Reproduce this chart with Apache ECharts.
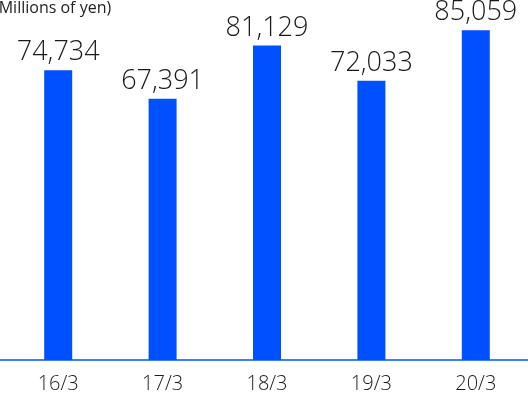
<!DOCTYPE html>
<html>
<head>
<meta charset="utf-8">
<script src="https://cdn.jsdelivr.net/npm/echarts@6/dist/echarts.min.js"></script>
<style>
  html, body { margin: 0; padding: 0; background: #fff; }
  #chart { width: 528px; height: 396px; }
</style>
</head>
<body>
<div id="chart"></div>
<script>
// Fiscal years (year/month of fiscal year end)
const categories = ['16/3', '17/3', '18/3', '19/3', '20/3'];
// Amounts in millions of yen
const values = [74734, 67391, 81129, 72033, 85059];
const unitLabel = '(Millions of yen)';

const FONT = '"Open Sans", "Noto Sans", sans-serif';
const chart = echarts.init(document.getElementById('chart'), null, { renderer: 'canvas' });

chart.setOption({
  animation: false,
  backgroundColor: '#ffffff',
  grid: [
    { left: 6, right: 0, top: 11, bottom: 36 },
    // full-width strip used only for the baseline
    { left: 0, right: 0, top: 11, bottom: 36 }
  ],
  xAxis: [
    {
      type: 'category',
      gridIndex: 0,
      data: categories,
      axisLine: { show: false },
      axisTick: { show: false },
      axisLabel: {
        margin: 14,
        fontSize: 20,
        fontWeight: 300,
        fontFamily: FONT,
        color: '#1a1a1a'
      }
    },
    {
      type: 'category',
      gridIndex: 1,
      data: [''],
      axisLine: { show: true, lineStyle: { color: '#3f7fff', width: 2 } },
      axisTick: { show: false },
      axisLabel: { show: false }
    }
  ],
  yAxis: [
    { type: 'value', gridIndex: 0, min: 0, max: 90000, show: false, splitLine: { show: false } },
    { type: 'value', gridIndex: 1, min: 0, max: 1, show: false, splitLine: { show: false } }
  ],
  graphic: [
    {
      type: 'text',
      left: -6,
      top: 0,
      style: {
        text: unitLabel,
        font: '16px ' + FONT,
        fill: '#222222'
      }
    }
  ],
  series: [
    {
      type: 'bar',
      xAxisIndex: 0,
      yAxisIndex: 0,
      data: values,
      barWidth: 28,
      itemStyle: { color: '#0050ff' },
      label: {
        show: true,
        position: 'top',
        distance: 4,
        fontSize: 27,
        fontWeight: 300,
        fontFamily: FONT,
        color: '#1a1a1a',
        formatter: p => p.value.toLocaleString('en-US')
      }
    }
  ]
});
</script>
</body>
</html>
